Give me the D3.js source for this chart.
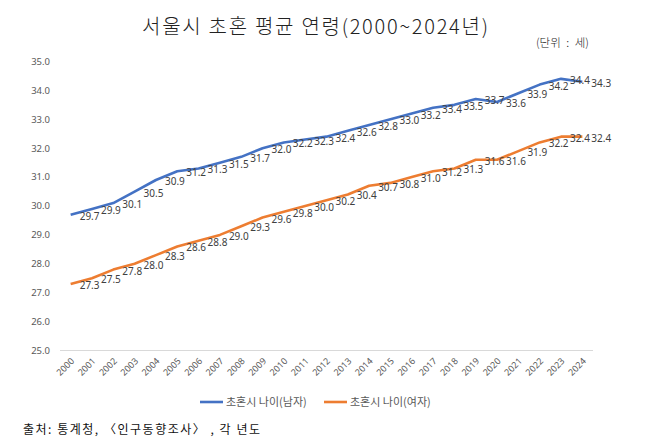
<!DOCTYPE html>
<html>
<head>
<meta charset="utf-8">
<script src="https://cdn.jsdelivr.net/npm/d3@7"></script>
<style>
  body { margin: 0; background: #fff; }
  svg { display: block; }
</style>
</head>
<body>
<div id="chart"></div>
<script>
// Data
const years = ["2000","2001","2002","2003","2004","2005","2006","2007","2008","2009","2010","2011","2012",
               "2013","2014","2015","2016","2017","2018","2019","2020","2021","2022","2023","2024"];
const male = [29.7, 29.9, 30.1, 30.5, 30.9, 31.2, 31.3, 31.5, 31.7, 32.0, 32.2, 32.3, 32.4,
              32.6, 32.8, 33.0, 33.2, 33.4, 33.5, 33.7, 33.6, 33.9, 34.2, 34.4, 34.3];
const female = [27.3, 27.5, 27.8, 28.0, 28.3, 28.6, 28.8, 29.0, 29.3, 29.6, 29.8, 30.0, 30.2,
                30.4, 30.7, 30.8, 31.0, 31.2, 31.3, 31.6, 31.6, 31.9, 32.2, 32.4, 32.4];
const yTicks = [25, 26, 27, 28, 29, 30, 31, 32, 33, 34, 35];
const seriesNames = ["초혼시 나이(남자)", "초혼시 나이(여자)"];
const seriesColors = ["#4472C4", "#ED7D31"];

const W = 650, H = 443;
const plot = { left: 60, right: 593, top: 61.5, bottom: 350.5 };

const svg = d3.select("#chart").append("svg")
    .attr("width", W)
    .attr("height", H);

// Title
svg.append("text")
    .attr("x", 142)
    .attr("y", 34)
    .attr("textLength", 346)
    .attr("lengthAdjust", "spacing")
    .style("font-family", "'Noto Sans CJK KR', sans-serif")
    .style("font-weight", 300)
    .style("font-size", "20px")
    .style("fill", "#222")
    .text("서울시 초혼 평균 연령(2000~2024년)");

// Unit
svg.append("text")
    .attr("x", 536)
    .attr("y", 47)
    .style("font-family", "'Noto Sans CJK KR', sans-serif")
    .style("font-weight", 300)
    .style("font-size", "11.5px")
    .style("word-spacing", "3px")
    .style("fill", "#222")
    .text("(단위 : 세)");

// Scales
const x = d3.scalePoint()
    .domain(years)
    .range([plot.left, plot.right])
    .padding(0.5);

const y = d3.scaleLinear()
    .domain([25, 35])
    .range([plot.bottom, plot.top]);

// Y axis labels (no line)
svg.append("g")
    .selectAll("text")
    .data(yTicks)
    .enter()
    .append("text")
    .attr("x", 50)
    .attr("y", d => y(d))
    .attr("dy", "0.35em")
    .attr("text-anchor", "end")
    .style("font-family", "'Noto Sans', sans-serif")
    .style("font-size", "9.5px")
    .style("fill", "#595959")
    .text(d => d.toFixed(1));

// Bottom axis line
svg.append("line")
    .attr("x1", plot.left)
    .attr("x2", plot.right)
    .attr("y1", y(25))
    .attr("y2", y(25))
    .attr("stroke", "#d9d9d9")
    .attr("stroke-width", 1);

// X axis labels, rotated
svg.append("g")
    .selectAll("text")
    .data(years)
    .enter()
    .append("text")
    .attr("transform", d => `translate(${x(d) + 2},${y(25) + 9}) rotate(-45)`)
    .attr("text-anchor", "end")
    .attr("dy", "0.35em")
    .style("font-family", "'Noto Sans', sans-serif")
    .style("font-size", "9px")
    .style("fill", "#595959")
    .text(d => d);

// Lines + labels
const line = d3.line()
    .x((d, i) => x(years[i]))
    .y(d => y(d));

[male, female].forEach((vals, s) => {
    svg.append("path")
        .datum(vals)
        .attr("fill", "none")
        .attr("stroke", seriesColors[s])
        .attr("stroke-width", 2.6)
        .attr("stroke-linejoin", "round")
        .attr("d", line);

    svg.append("g")
        .selectAll("text")
        .data(vals)
        .enter()
        .append("text")
        .attr("x", (d, i) => x(years[i]) + 9)
        .attr("y", d => y(d) + 1.5)
        .attr("dy", "0.35em")
        .style("font-family", "'Noto Sans', sans-serif")
        .style("font-size", "10px")
        .style("fill", "#404040")
        .text(d => d.toFixed(1));
});

// Legend
const legendX = [200, 324];
seriesNames.forEach((name, s) => {
    const g = svg.append("g").attr("transform", `translate(${legendX[s]},402)`);
    g.append("line")
        .attr("x1", 0).attr("x2", 23)
        .attr("stroke", seriesColors[s])
        .attr("stroke-width", 2.6);
    g.append("text")
        .attr("x", 26)
        .attr("dy", "0.35em")
        .style("font-family", "'Noto Sans CJK KR', sans-serif")
        .style("font-size", "11px")
        .style("fill", "#595959")
        .text(name);
});

// Source note
svg.append("text")
    .attr("x", 23)
    .attr("y", 434)
    .attr("textLength", 237)
    .attr("lengthAdjust", "spacing")
    .style("font-family", "'Noto Sans CJK KR', sans-serif")
    .style("font-size", "12px")
    .style("font-weight", 400)
    .style("fill", "#111")
    .text("출처: 통계청, 〈인구동향조사〉 , 각 년도");
</script>
</body>
</html>
